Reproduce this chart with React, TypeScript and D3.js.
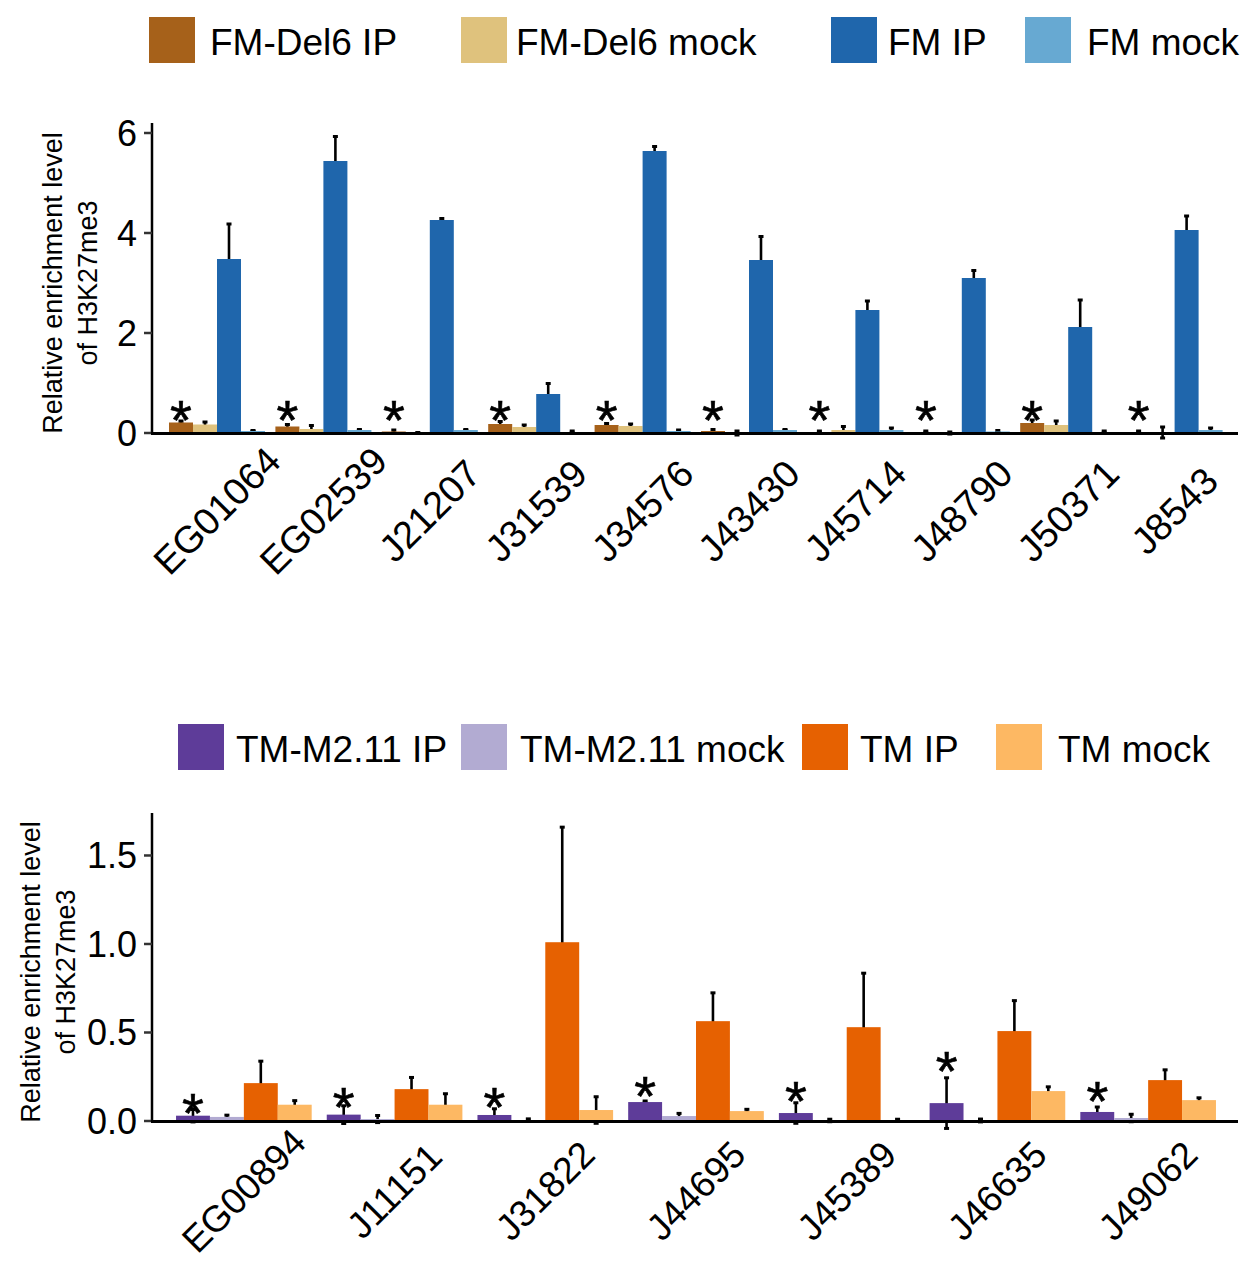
import React from "react";
import * as d3 from "d3";

const FONT = "'Liberation Sans', Arial, Helvetica, sans-serif";

// ---- top panel data ----
const topGenes = ["EG01064", "EG02539", "J21207", "J31539", "J34576", "J43430", "J45714", "J48790", "J50371", "J8543"];
const topSeries = ["FM-Del6 IP", "FM-Del6 mock", "FM IP", "FM mock"];
const topColors = ["#a6611a", "#dfc27d", "#1f66ac", "#67a9d2"];
const fmDel6IP = [0.21, 0.13, 0.03, 0.18, 0.16, 0.04, 0.02, 0.02, 0.2, 0.02];
const fmDel6IPsd = [0.03, 0.04, 0.03, 0.05, 0.03, 0.03, 0.02, 0.02, 0.06, 0.02];
const fmDel6Mock = [0.17, 0.08, 0.0, 0.12, 0.14, 0.0, 0.06, 0.0, 0.16, 0.01];
const fmDel6Mocksd = [0.05, 0.07, 0.01, 0.04, 0.04, 0.04, 0.07, 0.02, 0.08, 0.11];
const fmIP = [3.48, 5.44, 4.26, 0.78, 5.64, 3.46, 2.46, 3.1, 2.12, 4.06];
const fmIPsd = [0.7, 0.49, 0.03, 0.21, 0.09, 0.47, 0.18, 0.15, 0.54, 0.28];
const fmMock = [0.04, 0.06, 0.06, 0.02, 0.04, 0.06, 0.06, 0.03, 0.02, 0.06];
const fmMocksd = [0.01, 0.01, 0.01, 0.02, 0.02, 0.01, 0.04, 0.02, 0.02, 0.04];
const topStars = [0.46, 0.46, 0.46, 0.46, 0.46, 0.46, 0.46, 0.46, 0.46, 0.46];
const topTicks = [0, 2, 4, 6];

// ---- bottom panel data ----
const botGenes = ["EG00894", "J11151", "J31822", "J44695", "J45389", "J46635", "J49062"];
const botSeries = ["TM-M2.11 IP", "TM-M2.11 mock", "TM IP", "TM mock"];
const botColors = ["#5e3c99", "#b2abd2", "#e66101", "#fdb863"];
const tmM211IP = [0.03, 0.036, 0.034, 0.107, 0.045, 0.101, 0.051];
const tmM211IPsd = [0.035, 0.05, 0.035, 0.006, 0.058, 0.143, 0.028];
const tmM211Mock = [0.023, 0.011, 0.005, 0.028, 0.003, 0.003, 0.017];
const tmM211Mocksd = [0.01, 0.02, 0.007, 0.015, 0.007, 0.008, 0.021];
const tmIP = [0.214, 0.18, 1.01, 0.564, 0.53, 0.508, 0.231];
const tmIPsd = [0.124, 0.066, 0.65, 0.16, 0.305, 0.172, 0.058];
const tmMock = [0.092, 0.092, 0.062, 0.056, 0.004, 0.169, 0.118];
const tmMocksd = [0.023, 0.062, 0.075, 0.01, 0.006, 0.024, 0.013];
const botStars = [0.1, 0.135, 0.135, 0.2, 0.17, 0.34, 0.17];
const botTicks = [0, 0.5, 1.0, 1.5];

type PanelProps = {
  genes: string[];
  series: string[];
  colors: string[];
  values: number[][];
  sds: number[][];
  stars: number[];
  ticks: number[];
  tickFmt: (v: number) => string;
  yMax: number;
  yTop: number;
  yBottom: number;
  xRange: [number, number];
  pad: number;
  labelOffset: number;
  labelSize: number;
  titleX: [number, number];
  legendY: number;
  legendBoxes: number[];
  legendTexts: number[];
};

const Panel = (p: PanelProps) => {
  const x0 = d3.scaleBand<string>().domain(p.genes).range(p.xRange).paddingInner(p.pad).paddingOuter(p.pad / 2);
  const x1 = d3.scaleBand<string>().domain(p.series).range([0, x0.bandwidth()]);
  const y = d3.scaleLinear().domain([0, p.yMax]).range([p.yBottom, p.yTop]);
  const bw = x1.bandwidth();
  const titleCy = (p.yTop + p.yBottom) / 2 + 5;

  return (
    <g fontFamily={FONT}>
      {/* legend */}
      {p.series.map((s, i) => (
        <g key={s}>
          <rect x={p.legendBoxes[i]} y={p.legendY - 23} width={46} height={46} fill={p.colors[i]} />
          <text x={p.legendTexts[i]} y={p.legendY + 15} fontSize={37}>
            {s}
          </text>
        </g>
      ))}

      {/* error bars (drawn under the bars) */}
      {p.genes.map((g, gi) =>
        p.series.map((s, si) => {
          const cx = (x0(g) as number) + (x1(s) as number) + bw / 2;
          const v = p.values[si][gi];
          const e = p.sds[si][gi];
          const yHi = y(v + e);
          const yLo = y(v - e);
          return (
            <g key={g + s + "err"}>
              <line x1={cx} x2={cx} y1={yHi} y2={yLo} stroke="#000" strokeWidth={2.6} />
              <line x1={cx - 2.5} x2={cx + 2.5} y1={yHi} y2={yHi} stroke="#000" strokeWidth={3} />
              <line x1={cx - 2.5} x2={cx + 2.5} y1={yLo} y2={yLo} stroke="#000" strokeWidth={3} />
            </g>
          );
        })
      )}

      {/* bars */}
      {p.genes.map((g, gi) =>
        p.series.map((s, si) => {
          const v = p.values[si][gi];
          return (
            <rect
              key={g + s}
              x={(x0(g) as number) + (x1(s) as number)}
              y={y(Math.max(v, 0))}
              width={bw}
              height={Math.abs(y(v) - y(0))}
              fill={p.colors[si]}
            />
          );
        })
      )}

      {/* significance stars */}
      {p.genes.map((g, gi) => (
        <text
          key={g + "star"}
          x={(x0(g) as number) + (x1(p.series[0]) as number) + bw / 2}
          y={y(p.stars[gi]) + 29}
          fontSize={56}
          textAnchor="middle"
          stroke="#000"
          strokeWidth={0.6}
        >
          *
        </text>
      ))}

      {/* y axis */}
      <line x1={152} x2={152} y1={p.yTop} y2={p.yBottom + 1} stroke="#000" strokeWidth={2.5} />
      {p.ticks.map((t) => (
        <g key={t}>
          <line x1={144} x2={152} y1={y(t)} y2={y(t)} stroke="#333" strokeWidth={2.5} />
          <text x={137} y={y(t) + 13} fontSize={36} textAnchor="end">
            {p.tickFmt(t)}
          </text>
        </g>
      ))}

      {/* x axis */}
      <line x1={151} x2={1238} y1={y(0) + 0.5} y2={y(0) + 0.5} stroke="#000" strokeWidth={3} />
      {p.genes.map((g) => {
        const cx = (x0(g) as number) + x0.bandwidth() / 2;
        const cy = y(0) + p.labelOffset;
        return (
          <text
            key={g + "lab"}
            x={cx}
            y={cy}
            fontSize={p.labelSize}
            textAnchor="middle"
            dominantBaseline="central"
            transform={`rotate(-45 ${cx} ${cy})`}
          >
            {g}
          </text>
        );
      })}

      {/* y title */}
      <g transform={`translate(${p.titleX[0]},${titleCy}) rotate(-90)`}>
        <text fontSize={27} textAnchor="middle">
          Relative enrichment level
        </text>
      </g>
      <g transform={`translate(${p.titleX[1]},${titleCy}) rotate(-90)`}>
        <text fontSize={27} textAnchor="middle">
          of H3K27me3
        </text>
      </g>
    </g>
  );
};

export default function App() {
  return (
    <svg
      width={1243}
      height={1265}
      style={{ position: "absolute", left: 0, top: 0, background: "#fff" }}
    >
      <Panel
        genes={topGenes}
        series={topSeries}
        colors={topColors}
        values={[fmDel6IP, fmDel6Mock, fmIP, fmMock]}
        sds={[fmDel6IPsd, fmDel6Mocksd, fmIPsd, fmMocksd]}
        stars={topStars}
        ticks={topTicks}
        tickFmt={d3.format("d")}
        yMax={6.2}
        yTop={123}
        yBottom={433}
        xRange={[163.8, 1227.8]}
        pad={0.0977}
        labelOffset={78}
        labelSize={38}
        titleX={[62, 97]}
        legendY={40}
        legendBoxes={[149, 461, 831, 1025]}
        legendTexts={[210, 516, 888, 1087]}
      />
      <Panel
        genes={botGenes}
        series={botSeries}
        colors={botColors}
        values={[tmM211IP, tmM211Mock, tmIP, tmMock]}
        sds={[tmM211IPsd, tmM211Mocksd, tmIPsd, tmMocksd]}
        stars={botStars}
        ticks={botTicks}
        tickFmt={d3.format(".1f")}
        yMax={1.74}
        yTop={813}
        yBottom={1121}
        xRange={[168.5, 1223.5]}
        pad={0.1}
        labelOffset={70}
        labelSize={37}
        titleX={[40, 75]}
        legendY={747}
        legendBoxes={[178, 461, 802, 996]}
        legendTexts={[236, 520, 860, 1058]}
      />
    </svg>
  );
}
